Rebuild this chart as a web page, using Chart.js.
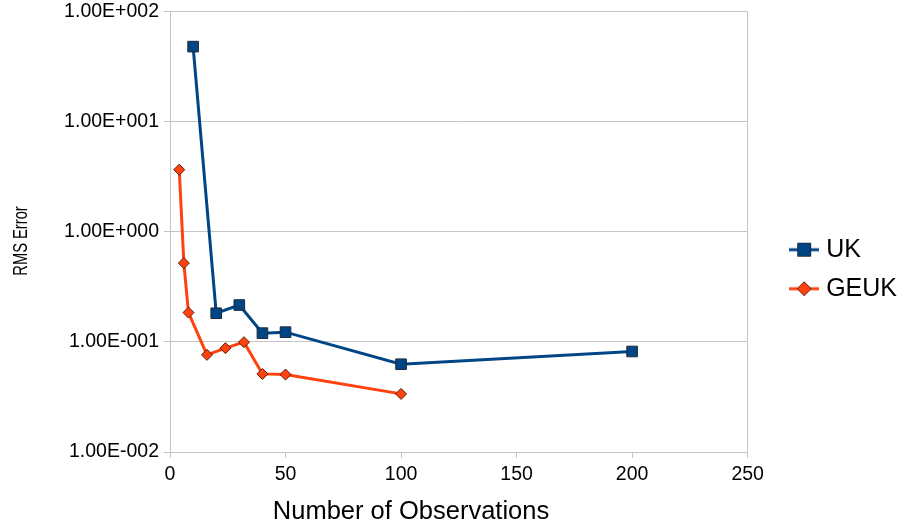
<!DOCTYPE html>
<html>
<head>
<meta charset="utf-8">
<script src="https://cdn.jsdelivr.net/npm/chart.js@4"></script>
<style>
  html, body { margin: 0; padding: 0; background: #fff; }
  #wrap { width: 902px; height: 527px; }
</style>
</head>
<body>
<div id="wrap"><canvas id="rmsChart"></canvas></div>
<script>
// Data
const ukX = [10, 20, 30, 40, 50, 100, 200];
const ukY = [48, 0.182, 0.216, 0.120, 0.1225, 0.0627, 0.0818];
const geukX = [4, 6, 8, 16, 24, 32, 40, 50, 100];
const geukY = [3.66, 0.519, 0.1845, 0.0762, 0.0877, 0.0994, 0.0512, 0.0505, 0.0337];

const yTicks = [0.01, 0.1, 1, 10, 100];
const yTickLabels = ['1.00E-002', '1.00E-001', '1.00E+000', '1.00E+001', '1.00E+002'];
const seriesNames = ['UK', 'GEUK'];
const xTitle = 'Number of Observations';
const yTitle = 'RMS Error';

const colors = ['#004586', '#ff420e'];
const markerBorders = ['#1e2a3a', '#5a1e08'];
const gridGrey = '#c4c4c4';
const font = "'Liberation Sans', Arial, sans-serif";

// small canvas images for the legend: line with marker in the middle
function legendIcon(index) {
    const c = document.createElement('canvas');
    c.width = 30;
    c.height = 16;
    const ctx = c.getContext('2d');
    ctx.strokeStyle = colors[index];
    ctx.lineWidth = 3;
    ctx.beginPath();
    ctx.moveTo(0, 8);
    ctx.lineTo(30, 8);
    ctx.stroke();
    ctx.fillStyle = colors[index];
    ctx.strokeStyle = markerBorders[index];
    ctx.lineWidth = 1;
    ctx.beginPath();
    if (index === 0) {
        ctx.rect(8.5, 1.5, 13, 13);
    } else {
        ctx.moveTo(15, 1);
        ctx.lineTo(22, 8);
        ctx.lineTo(15, 15);
        ctx.lineTo(8, 8);
        ctx.closePath();
    }
    ctx.fill();
    ctx.stroke();
    return c;
}
const legendIcons = [legendIcon(0), legendIcon(1)];

// axis titles: the original's are off-centre and the y one is squeezed
const axisTitles = {
    id: 'axisTitles',
    afterDraw(chart) {
        const ctx = chart.ctx;
        ctx.save();
        ctx.fillStyle = '#000';
        ctx.textAlign = 'center';
        ctx.textBaseline = 'middle';
        ctx.font = "25.5px " + font;
        ctx.fillText(xTitle, 411, 512);
        ctx.translate(21, 241);
        ctx.rotate(-Math.PI / 2);
        ctx.scale(0.7, 1);
        ctx.font = "21px " + font;
        ctx.fillText(yTitle, 0, 0);
        ctx.restore();
    }
};

const chart = new Chart(document.getElementById('rmsChart').getContext('2d'), {
    type: 'line',
    data: {
        datasets: [
            {
                label: seriesNames[0],
                data: ukX.map((x, i) => ({ x: x, y: ukY[i] })),
                borderColor: colors[0],
                backgroundColor: colors[0],
                borderWidth: 3,
                pointStyle: 'rect',
                pointRadius: 7.5,
                pointBorderColor: markerBorders[0],
                pointBorderWidth: 1,
                fill: false,
                tension: 0
            },
            {
                label: seriesNames[1],
                data: geukX.map((x, i) => ({ x: x, y: geukY[i] })),
                borderColor: colors[1],
                backgroundColor: colors[1],
                borderWidth: 3,
                pointStyle: 'rectRot',
                pointRadius: 5.5,
                pointBorderColor: markerBorders[1],
                pointBorderWidth: 1,
                fill: false,
                tension: 0
            }
        ]
    },
    plugins: [axisTitles],
    options: {
        responsive: true,
        maintainAspectRatio: false,
        animation: false,
        layout: {
            padding: { top: 11.5, right: -5, bottom: 0, left: 0 }
        },
        plugins: {
            tooltip: { enabled: false },
            legend: {
                position: 'right',
                align: 'center',
                labels: {
                    usePointStyle: true,
                    pointStyleWidth: 19,
                    padding: 14,
                    color: '#000',
                    font: { family: font, size: 25 },
                    generateLabels(chart) {
                        const items = Chart.defaults.plugins.legend.labels.generateLabels(chart);
                        items.forEach((item, i) => { item.pointStyle = legendIcons[i]; });
                        return items;
                    }
                }
            }
        },
        scales: {
            x: {
                type: 'linear',
                min: 0,
                max: 250,
                afterFit(scale) { scale.height = 75; },
                ticks: {
                    stepSize: 50,
                    padding: 5,
                    color: '#000',
                    font: { family: font, size: 19.5 }
                },
                grid: {
                    color: ctx => (ctx.tick && ctx.tick.value === 250 ? gridGrey : 'rgba(0,0,0,0)'),
                    tickColor: gridGrey,
                    tickLength: 6,
                    lineWidth: 1
                },
                border: { color: gridGrey, width: 1 }
            },
            y: {
                type: 'logarithmic',
                min: 0.01,
                max: 100,
                afterFit(scale) {
                    scale.width = 170;
                    scale.paddingTop = 11;
                    scale.paddingBottom = 11;
                },
                afterBuildTicks(scale) {
                    scale.ticks = yTicks.map(v => ({ value: v, major: true }));
                },
                ticks: {
                    padding: 5,
                    color: '#000',
                    font: { family: font, size: 19.5 },
                    callback: (value) => yTickLabels[yTicks.indexOf(value)]
                },
                grid: {
                    color: gridGrey,
                    tickColor: gridGrey,
                    tickLength: 6,
                    lineWidth: 1
                },
                border: { color: gridGrey, width: 1 }
            },
            gap: {
                type: 'linear',
                position: 'right',
                display: true,
                afterFit(scale) { scale.width = 33; },
                ticks: { display: false },
                grid: { display: false, drawTicks: false },
                border: { display: false }
            }
        }
    }
});
</script>
</body>
</html>
